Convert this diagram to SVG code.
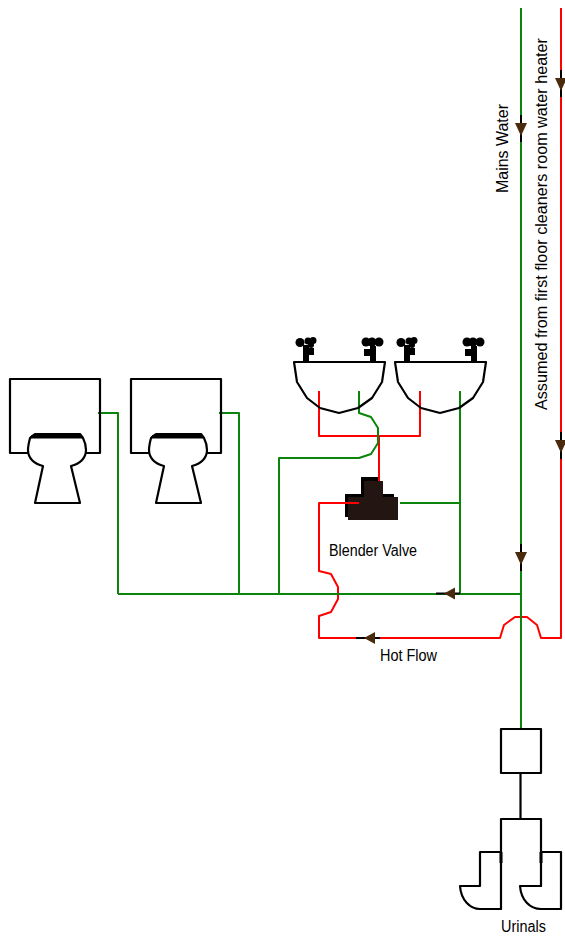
<svg xmlns="http://www.w3.org/2000/svg" width="565" height="936" viewBox="0 0 565 936">
<style>
.k{fill:none;stroke:#000;stroke-width:2.200;stroke-linejoin:round;stroke-linecap:round}
.g{fill:none;stroke:#0a840a;stroke-width:2;stroke-linejoin:round}
.r{fill:none;stroke:#ff0000;stroke-width:2;stroke-linejoin:round}
.a{stroke:#000;stroke-width:2;fill:none}
.h{fill:#4a2a0c;stroke:none}
text{font-family:"Liberation Sans",Arial,sans-serif;font-size:16px;fill:#000}
</style>
<defs>
<g id="toilet">
<path class="k" d="M28 453H10V379H100V453H86"/>
<path class="k" d="M30 438L35 434H80L83 438C85 442 86 446 86 450C86 458 80 464 71 466L80 503H35L43 466C34 464 28 458 28 450C28 446 29 442 30 438Z"/>
<path d="M31 436L35 434H80L82 438H30Z" fill="#000" stroke="#000"/>
</g>
<g id="sink">
<path class="k" d="M294 362H385L382 382L372 398L358 408L339 413L320 408L307 398L297 382Z"/>
<rect x="303" y="345" width="6" height="17"/>
<rect x="308" y="348" width="6" height="7"/>
<circle cx="300" cy="342.500" r="4.500"/>
<circle cx="308" cy="341" r="3.500"/>
<circle cx="313" cy="340.500" r="3.500"/>
<circle cx="311" cy="345" r="3"/>
<rect x="370" y="346" width="6" height="16"/>
<rect x="364" y="349" width="6" height="7"/>
<circle cx="366" cy="342" r="4.500"/>
<circle cx="372" cy="342" r="4.500"/>
<circle cx="379" cy="342" r="4.500"/>
</g>
<g id="ad"><path d="M0 -13V14" class="a"/><path class="h" d="M-6 -5H6L0 8Z"/></g>
<g id="al"><path d="M-8 0H16" class="a"/><path class="h" d="M0 0L11 -6V6Z"/></g>
</defs>
<g id="connectors">
<path class="g" d="M98 413H118V594"/>
<path class="g" d="M219 413H239V594"/>
<path class="r" d="M319 391V436H420V391"/>
<path class="r" d="M379 436V478"/>
<path class="r" d="M359 503H319V571L331 574L338 587V599L331 612L319 616V638H500L504 625L515 617H527L537 625L541 638H561V8"/>
<path class="g" d="M118 594H521"/>
<path class="g" d="M521 8V729"/>
<path class="g" d="M359 391V413L371 417L378 428V443L371 454L359 458H279V594"/>
<path class="g" d="M460 391V594"/>
<path class="g" d="M400 503H460"/>
<path class="k" d="M520.500 773V819"/>
</g>
<g id="arrows">
<use href="#ad" x="521" y="128"/>
<use href="#ad" x="561" y="83"/>
<use href="#ad" x="561" y="445"/>
<use href="#ad" x="521" y="557"/>
<use href="#al" x="444" y="593.500"/>
<use href="#al" x="364" y="638"/>
</g>
<g id="toilet-1"><use href="#toilet"/></g>
<g id="toilet-2"><use href="#toilet" x="121"/></g>
<g id="sink-1"><use href="#sink"/></g>
<g id="sink-2"><use href="#sink" x="101"/></g>
<g id="blender-valve">
<path d="M361 477H380V494H394V517H345V494H361Z" fill="#000"/>
<path d="M364 481H383V497H398V520H348V497H364Z" fill="#231512"/>
<path class="r" d="M335 503H359"/>
<path class="r" d="M379 470V481"/>
<text x="329" y="556" textLength="88" lengthAdjust="spacingAndGlyphs">Blender Valve</text>
</g>
<g id="mixer"><rect class="k" x="501" y="729" width="40" height="44"/></g>
<g id="urinals">
<path class="k" d="M501 909V819H541V886"/>
<path class="k" d="M501 852H480V886H460C461 900 470 909 480 909H501"/>
<path class="k" d="M541 852H561V909H541C530 909 521 900 520 886H541"/>
<path d="M501 852V863M541 852V863" stroke="#000" stroke-width="3"/>
<text x="501" y="932" textLength="45" lengthAdjust="spacingAndGlyphs">Urinals</text>
</g>
<g id="labels">
<text transform="translate(508 193) rotate(-90)" textLength="89" lengthAdjust="spacingAndGlyphs">Mains Water</text>
<text transform="translate(547 410) rotate(-90)" textLength="372" lengthAdjust="spacingAndGlyphs">Assumed from first floor cleaners room water heater</text>
<text x="380" y="661" textLength="57" lengthAdjust="spacingAndGlyphs">Hot Flow</text>
</g>
</svg>
